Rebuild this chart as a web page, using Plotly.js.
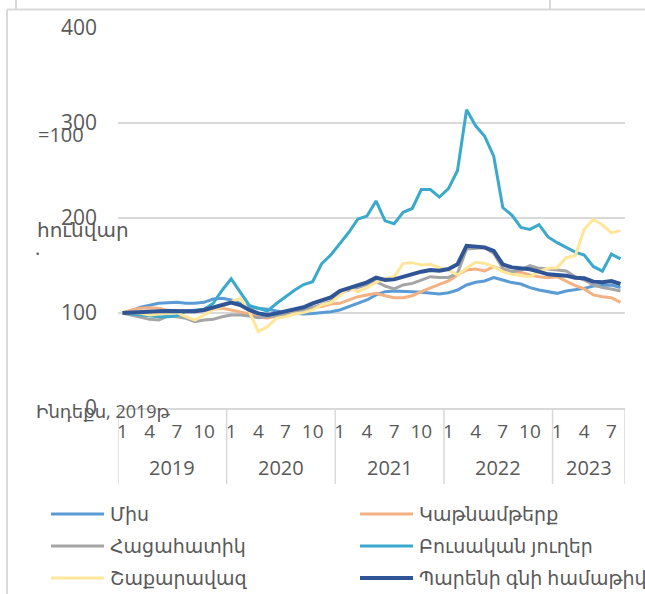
<!DOCTYPE html>
<html><head><meta charset="utf-8">
<script src="https://cdn.plot.ly/plotly-3.0.1.min.js"></script>
<style>html,body{margin:0;padding:0;background:#fff}#chart{width:645px;height:594px}</style>
</head><body><div id="chart"></div>
<script>
// ---- data ----
const years = ['2019','2020','2021','2022','2023'];
const monthsPerYear = [12,12,12,12,8];
const monthTickLabels = ['1','4','7','10'];
const seriesNames = ['Միս','Կաթնամթերք','Հացահատիկ','Բուսական յուղեր','Շաքարավազ','Պարենի գնի համաթիվ'];
const yTicks = [0,100,200,300,400];

const meat = [100,102.5,106,108.4,110.2,110.9,111.2,110.2,110.2,111.2,114.7,115.4,113.7,110.2,106.7,104.9,103.9,102.1,100.4,99.6,99,99.6,100.4,101.4,103.2,106.7,110.2,113.7,119,122.5,123.2,123.2,122.5,121.8,120.7,120,121.4,124.2,129.5,132.3,133.7,137.2,134.7,132,130.5,126.7,124.2,122.5,120.7,123.2,124.2,125.9,128.4,128.8,129.5,126.7];
const dairy = [100,103.2,104.9,105.6,104.9,102.5,100.4,101.4,101.4,102.5,103.9,104.9,103.2,101.4,99,96.1,94.4,96.8,99,101.4,104.2,106,106.7,109.5,110.2,113.7,117.2,119,120.7,118.2,116.1,116.1,118.2,122.5,126.7,130.2,133.7,140,145.3,146.3,144.2,148.8,145.3,143.5,142.8,140,138.2,137.2,138.2,133.7,128.8,125.3,119,117.2,116.1,111.2];
const cereals = [100,97.9,96.1,93.3,92.6,96.8,96.1,94.4,90.9,92.6,93.3,96.1,97.9,97.9,96.8,95,96.1,96.8,97.9,99.6,102.5,106,108.4,111.9,120.7,124.2,126.7,129.5,133,128.4,125.3,129.5,131.2,134.7,138.2,137.5,137.5,141.8,167.4,168.1,168.8,162.8,147,143.5,145.3,149.8,147,146.3,145.3,144.2,138.2,134.7,129.5,126.7,125.3,123.2];
const vegOils = [100,99,98,97,96,96,97,102,103,104,110,124,136,122,108,105,102,110,117,124,130,133,152,161,173,185,199,202,218,197,194,206,210,230,230,222,231,250,314,297,286,265,211,203,190,188,193,180,174,169,164,161,149,144,162,157];
const sugar = [100,100.4,99.6,97.9,98.9,99.6,100.4,96.1,92.6,97.9,103.2,106.7,111.9,115.4,101.4,80.4,85.6,94.4,96.1,99,100.4,103.2,108.4,110.9,118.2,125.9,122.5,126.7,132.3,136.5,138.2,152.3,153,150.5,151.2,147.7,145.3,140,147,153.3,152.3,148.8,143.5,140.7,139.3,138.2,143.5,147,147.7,158.2,160.4,188,198.6,192.6,184.6,186.7];
const foodIndex = [100,100.7,101,101.4,101.8,102.1,102.1,102.5,101.8,103.2,106,108.4,110.9,108.4,103.2,99.6,97.9,99.6,101.4,103.2,106,110.2,113.7,116.5,123.2,125.9,128.8,132.3,137.2,134.7,135.4,138.2,140,143.5,145.3,144.6,146.3,151.2,170.8,169.8,169.1,165.3,151.2,148,147,146,143.5,140.7,140,139.3,137.2,136.5,133,132.3,133.7,130.5];

// ---- categories ----
const periods = [];
years.forEach((y,k)=>{ for(let m=1;m<=monthsPerYear[k];m++) periods.push(y+'-'+String(m).padStart(2,'0')); });
const tickVals = [], tickText = [];
periods.forEach((p,i)=>{ const m = parseInt(p.slice(5),10); if (monthTickLabels.includes(String(m))) { tickVals.push(p); tickText.push(String(m)); } });

// ---- styling ----
const W=645, H=594, L=118, R=20, T=28, B=186;
const PW=W-L-R, PH=H-T-B;
const px = x => (x-L)/PW;
const py = y => (H-B-y)/PH;
const grey = '#D9D9D9', txt = '#595959';
const FONT = 'Open Sans, DejaVu Sans, sans-serif';
const colors = ['#5B9BD5','#F4B183','#A5A5A5','#3BA9CC','#FFE699','#2F5597'];
const widths = [3,3,3,3,3,4];
const allSeries = [meat,dairy,cereals,vegOils,sugar,foodIndex];

const traces = allSeries.map((s,k)=>({
  x: periods, y: s, type:'scatter', mode:'lines', name: seriesNames[k],
  line:{color:colors[k], width:widths[k]}, showlegend:false, hoverinfo:'skip'
}));

const shapes = [];
const annotations = [];
// frame artifacts
shapes.push({type:'line', xref:'paper', yref:'paper', x0:px(7), x1:px(645), y0:py(9.5), y1:py(9.5), line:{color:grey,width:2}});
shapes.push({type:'line', xref:'paper', yref:'paper', x0:px(7), x1:px(7), y0:py(9.5), y1:py(594), line:{color:grey,width:2}});
shapes.push({type:'line', xref:'paper', yref:'paper', x0:px(16), x1:px(16), y0:py(0), y1:py(9), line:{color:grey,width:2}});
shapes.push({type:'line', xref:'paper', yref:'paper', x0:px(550), x1:px(550), y0:py(0), y1:py(9), line:{color:grey,width:2}});
// year group separators
let acc = 0;
const bounds = [-0.5];
monthsPerYear.forEach(n=>{ acc += n; bounds.push(acc-0.5); });
bounds.forEach(b=>shapes.push({type:'line', xref:'x', yref:'paper', x0:b, x1:b, y0:0, y1:py(484), line:{color:grey,width:1.5}}));
// year labels
for (let k=0;k<years.length;k++){
  annotations.push({xref:'x', yref:'paper', x:(bounds[k]+bounds[k+1])/2, y:py(467), text:years[k], showarrow:false,
    xanchor:'center', yanchor:'middle', font:{family:FONT, size:20, color:txt}});
}
// broken y-axis title fragments (as in the reference)
const titleBits = [
  {t:'=100', x:36, y:134, s:20},
  {t:'հունվար', x:35, y:229, s:20},
  {t:'.', x:33, y:247, s:20},
  {t:'Ինդեքս, 2019թ', x:34, y:411, s:18}
];
titleBits.forEach(b=>annotations.push({xref:'paper', yref:'paper', x:px(b.x), y:py(b.y), text:b.t, showarrow:false,
  xanchor:'left', yanchor:'middle', font:{family:FONT, size:b.s, color:txt}}));
// legend (two columns)
const legRows = [514,546,578], legCols = [51,360];
seriesNames.forEach((n,k)=>{
  const cx = legCols[k%2], cy = legRows[Math.floor(k/2)];
  shapes.push({type:'line', xref:'paper', yref:'paper', x0:px(cx), x1:px(cx+53), y0:py(cy), y1:py(cy), line:{color:colors[k], width:widths[k]}});
  annotations.push({xref:'paper', yref:'paper', x:px(cx+57), y:py(cy), text:n, showarrow:false, xanchor:'left', yanchor:'middle',
    font:{family:FONT, size:19, color:txt}});
});

const layout = {
  width:W, height:H, margin:{l:L, r:R, t:T, b:B, pad:0},
  paper_bgcolor:'#fff', plot_bgcolor:'#fff', showlegend:false,
  font:{family:FONT, color:txt},
  xaxis:{type:'category', range:[-0.5, periods.length-0.5], tickmode:'array', tickvals:tickVals, ticktext:tickText,
    tickangle:0, showgrid:false, zeroline:false, showline:true, linecolor:grey, linewidth:1.5, ticks:'',
    ticklabelstandoff:6, tickfont:{family:FONT, size:19, color:txt}, fixedrange:true},
  yaxis:{range:[0,400], tickvals:yTicks, showgrid:true, gridcolor:grey, gridwidth:1.5, zeroline:false, showline:false,
    ticks:'', ticklabelstandoff:20, tickfont:{family:FONT, size:21, color:txt}, fixedrange:true},
  shapes:shapes, annotations:annotations
};
Plotly.newPlot('chart', traces, layout, {staticPlot:true, displayModeBar:false});
</script></body></html>
